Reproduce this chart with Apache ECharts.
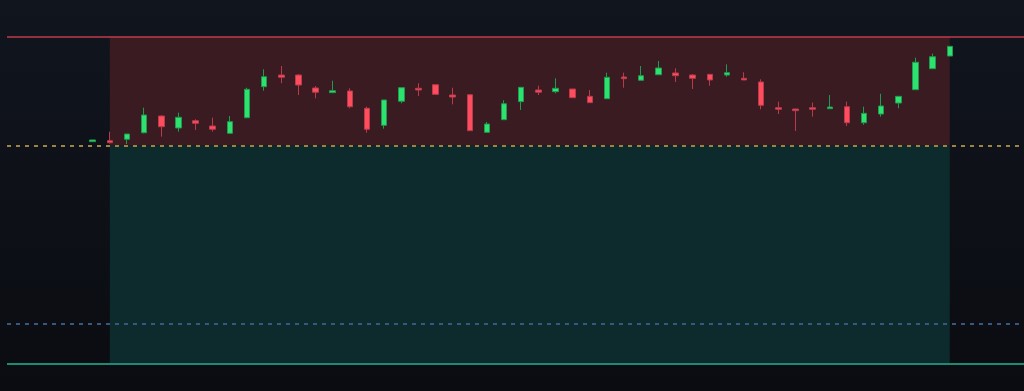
<!DOCTYPE html>
<html>
<head>
<meta charset="utf-8">
<script src="https://cdn.jsdelivr.net/npm/echarts@6/dist/echarts.min.js"></script>
<style>
  html, body { margin: 0; padding: 0; background: #0d1017; }
  #chart { width: 1024px; height: 391px; }
</style>
</head>
<body>
<div id="chart"></div>
<script>
// OHLC per bar (bar index = position on the x axis)
const opens  = [2450.39, 2450.49, 2450.63, 2451.29, 2452.98, 2451.77, 2452.51, 2451.97, 2451.23, 2452.81,
                2455.94, 2457.12, 2457.12, 2455.81, 2455.34, 2455.51, 2453.76, 2452.04, 2454.47, 2455.78,
                2456.14, 2455.10, 2455.13, 2451.33, 2452.61, 2454.43, 2455.61, 2455.44, 2455.71, 2454.97,
                2454.73, 2456.92, 2456.59, 2457.15, 2457.33, 2457.12, 2457.19, 2457.12, 2456.79, 2456.42,
                2453.82, 2453.69, 2453.82, 2453.72, 2453.92, 2452.30, 2453.18, 2454.29, 2455.64, 2457.76,
                2459.04];
const closes = [2450.56, 2450.28, 2451.16, 2453.08, 2451.90, 2452.85, 2452.24, 2451.64, 2452.41, 2455.68,
                2456.95, 2456.89, 2456.11, 2455.38, 2455.54, 2453.92, 2451.64, 2454.60, 2455.84, 2455.61,
                2455.17, 2454.90, 2451.50, 2452.17, 2454.22, 2455.88, 2455.38, 2455.78, 2454.83, 2454.33,
                2456.89, 2456.75, 2457.05, 2457.83, 2457.05, 2456.79, 2456.62, 2457.36, 2456.62, 2454.06,
                2453.66, 2453.52, 2453.66, 2453.89, 2452.30, 2453.25, 2453.99, 2454.97, 2458.41, 2458.97,
                2460.02];
const lows   = [2450.39, 2450.20, 2450.15, 2451.23, 2450.89, 2451.40, 2451.57, 2451.40, 2451.20, 2452.75,
                2455.54, 2456.29, 2455.10, 2454.77, 2455.34, 2453.76, 2451.29, 2451.70, 2454.26, 2455.00,
                2455.17, 2454.16, 2451.50, 2451.33, 2452.61, 2453.59, 2455.10, 2455.27, 2454.83, 2454.33,
                2454.73, 2455.84, 2456.59, 2457.15, 2456.42, 2455.71, 2456.04, 2456.95, 2456.62, 2453.66,
                2453.18, 2451.47, 2452.91, 2453.72, 2451.97, 2452.10, 2452.91, 2453.76, 2455.60, 2457.76,
                2459.04];
const highs  = [2450.56, 2451.40, 2451.16, 2453.82, 2453.05, 2453.32, 2452.65, 2452.81, 2452.98, 2455.84,
                2457.70, 2458.03, 2457.20, 2456.01, 2456.55, 2455.78, 2453.92, 2454.60, 2455.90, 2456.29,
                2456.14, 2455.84, 2455.13, 2452.38, 2454.57, 2455.88, 2456.04, 2456.79, 2455.71, 2455.61,
                2457.36, 2457.36, 2458.03, 2458.54, 2457.80, 2457.20, 2457.19, 2458.20, 2457.40, 2456.69,
                2454.43, 2453.69, 2454.33, 2455.10, 2454.43, 2453.92, 2455.23, 2454.97, 2458.87, 2459.28,
                2460.02];

// position levels (short setup)
const stopPrice   = 2461;
const entryPrice  = 2450;
const targetPrice = 2428;
const levelPrice  = 2432;

// position box spans these bars
const boxStart = 1;
const boxEnd   = 50;

function renderPositionChart() {
  const el = document.getElementById('chart');
  const chart = echarts.init(el);
  const bars = opens.map((o, i) => [i, o, closes[i], lows[i], highs[i]]);

  chart.setOption({
    animation: false,
    backgroundColor: new echarts.graphic.LinearGradient(0, 0, 0, 1, [
      { offset: 0, color: '#11151e' },
      { offset: 1, color: '#0a0c11' },
    ]),
    grid: { left: 7, right: 0, top: 0, bottom: 0 },
    xAxis: { type: 'value', min: -5, max: 54.33, show: false },
    yAxis: { type: 'value', min: 2425.2, max: 2464.7, show: false },
    series: [{
      type: 'candlestick',
      data: bars,
      encode: { x: 0, y: [1, 2, 3, 4] },
      barWidth: 6,
      itemStyle: {
        color: '#2ee26f', borderColor: '#1f9a50',
        color0: '#ff4d5e', borderColor0: '#b83a4b',
        borderWidth: 1,
      },
      markArea: {
        silent: true,
        data: [
          [{ xAxis: boxStart, yAxis: stopPrice, itemStyle: { color: '#3a1b22' } },
           { xAxis: boxEnd, yAxis: entryPrice }],
          [{ xAxis: boxStart, yAxis: entryPrice, itemStyle: { color: '#0d2b2d' } },
           { xAxis: boxEnd, yAxis: targetPrice }],
        ],
      },
      markLine: {
        silent: true,
        symbol: 'none',
        label: { show: false },
        data: [
          { yAxis: stopPrice, lineStyle: { color: '#c23b4a', width: 1.5, type: 'solid' } },
          { yAxis: entryPrice, lineStyle: { color: '#9c8443', width: 2, type: [4, 5] } },
          { yAxis: levelPrice, lineStyle: { color: '#34587f', width: 2, type: [4, 5] } },
          { yAxis: targetPrice, lineStyle: { color: '#1e8a72', width: 2, type: 'solid' } },
        ],
      },
    }],
  });
}

renderPositionChart();
</script>
</body>
</html>
